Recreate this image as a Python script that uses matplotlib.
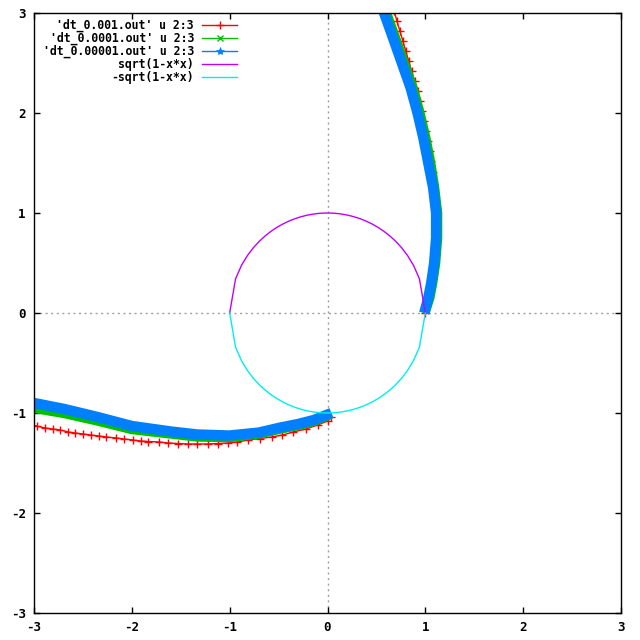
import numpy as np
import matplotlib
matplotlib.use('Agg')
import matplotlib.pyplot as plt
from matplotlib.lines import Line2D

# trajectories (x, y), two visible pieces each
red_up_x = [0.68, 0.71, 0.74, 0.77, 0.80, 0.83, 0.86, 0.89, 0.92, 0.95, 0.97, 0.99, 1.01, 1.03,
            1.05, 1.06, 1.08, 1.09, 1.10, 1.11, 1.11, 1.11, 1.10, 1.09, 1.07, 1.05, 1.03, 1.00]
red_up_y = [3.02, 2.92, 2.82, 2.72, 2.62, 2.52, 2.42, 2.32, 2.22, 2.12, 2.02, 1.92, 1.82, 1.72,
            1.62, 1.52, 1.41, 1.29, 1.16, 1.03, 0.90, 0.77, 0.64, 0.51, 0.38, 0.25, 0.12, 0.00]
red_lo_x = [-3.05, -2.97, -2.89, -2.81, -2.73, -2.65, -2.58, -2.50, -2.42, -2.34, -2.26, -2.16,
            -2.08, -1.99, -1.91, -1.83, -1.72, -1.63, -1.53, -1.43, -1.33, -1.22, -1.12, -1.02,
            -0.92, -0.81, -0.69, -0.57, -0.46, -0.35, -0.22, -0.10, 0.00, 0.04]
red_lo_y = [-1.12, -1.13, -1.15, -1.16, -1.17, -1.19, -1.20, -1.21, -1.22, -1.23, -1.24, -1.25,
            -1.26, -1.27, -1.28, -1.285, -1.29, -1.30, -1.305, -1.31, -1.31, -1.31, -1.305, -1.30,
            -1.29, -1.27, -1.255, -1.24, -1.22, -1.19, -1.16, -1.12, -1.08, -1.04]

green_up_x = [0.58, 0.69, 0.78, 0.87, 0.94, 1.00, 1.05, 1.09, 1.12, 1.12, 1.10, 1.07, 1.04, 0.99]
green_up_y = [3.05, 2.75, 2.50, 2.25, 2.00, 1.75, 1.50, 1.25, 1.00, 0.75, 0.50, 0.30, 0.15, 0.00]
green_lo_x = [-3.05, -2.69, -2.35, -2.00, -1.60, -1.33, -1.00, -0.70, -0.48, -0.30, -0.14, 0.03]
green_lo_y = [-0.94, -1.00, -1.075, -1.16, -1.205, -1.235, -1.24, -1.205, -1.155, -1.12, -1.08, -1.01]

blue_up_x = [0.56, 0.67, 0.76, 0.85, 0.92, 0.98, 1.03, 1.08, 1.11, 1.11, 1.09, 1.06, 1.03, 0.99]
blue_up_y = [3.05, 2.75, 2.50, 2.25, 2.00, 1.75, 1.50, 1.25, 1.00, 0.75, 0.50, 0.30, 0.15, 0.00]
blue_lo_x = [-3.05, -2.69, -2.35, -2.00, -1.60, -1.33, -1.00, -0.70, -0.48, -0.30, -0.14, 0.04]
blue_lo_y = [-0.89, -0.96, -1.04, -1.13, -1.185, -1.215, -1.225, -1.195, -1.145, -1.11, -1.07, -1.00]

labels = ["'dt_0.001.out' u 2:3", "'dt_0.0001.out' u 2:3", "'dt_0.00001.out' u 2:3",
          "sqrt(1-x*x)", "-sqrt(1-x*x)"]
ticks = [-3, -2, -1, 0, 1, 2, 3]

RED, GREEN, BLUE, MAG, CYAN = '#ff0000', '#00c000', '#0080ff', '#c000ff', '#00eeee'

fig = plt.figure(figsize=(6.4, 6.4), dpi=100)
L, R, T, B = 34, 621, 13, 613
ax = fig.add_axes([L/640, 1 - B/640, (R-L)/640, (B-T)/640])
ax.set_xlim(-3, 3)
ax.set_ylim(-3, 3)

# zero axes
ax.axhline(0, color='#a0a0a0', lw=1, ls=(0, (1.5, 2.5)), zorder=1)
ax.axvline(0, color='#a0a0a0', lw=1, ls=(0, (1.5, 2.5)), zorder=1)

# dt = 0.001
for xs, ys in [(red_up_x, red_up_y), (red_lo_x, red_lo_y)]:
    ax.plot(xs, ys, color=RED, lw=1, marker='+', ms=6, mew=1, zorder=2)
# dt = 0.0001 (dense points -> thick band)
for xs, ys in [(green_up_x, green_up_y), (green_lo_x, green_lo_y)]:
    ax.plot(xs, ys, color=GREEN, lw=7.5, solid_capstyle='butt', solid_joinstyle='round', zorder=3)
# dt = 0.00001
for xs, ys in [(blue_up_x, blue_up_y), (blue_lo_x, blue_lo_y)]:
    ax.plot(xs, ys, color=BLUE, lw=7.5, solid_capstyle='butt', solid_joinstyle='round', zorder=4)

# functions sampled like gnuplot (100 samples across the x range)
fx = np.linspace(-3, 3, 100)
inside = np.abs(fx) <= 1 + 1e-9
fy = np.sqrt(np.clip(1 - fx[inside]**2, 0, None))
ax.plot(fx[inside], fy, color=MAG, lw=1, zorder=5)
ax.plot(fx[inside], -fy, color=CYAN, lw=1, zorder=5)

# axes styling, gnuplot-like
for s in ax.spines.values():
    s.set_linewidth(1)
    s.set_zorder(6)
ax.set_xticks(ticks)
ax.set_yticks(ticks)
ax.set_xticklabels([str(t) for t in ticks])
ax.set_yticklabels([str(t) for t in ticks])
ax.tick_params(direction='in', top=True, right=True, length=4, width=1,
               labelsize=9, pad=6)
for lab in ax.get_xticklabels() + ax.get_yticklabels():
    lab.set_fontfamily('DejaVu Sans Mono')
    lab.set_fontweight('bold')

# key, drawn by hand like gnuplot (text right aligned, sample on the right)
def px(x):
    return (x - L) / (R - L)

def py(y):
    return 1 - (y - T) / (B - T)

styles = [dict(color=RED, marker='+', ms=6, mew=1),
          dict(color=GREEN, marker='x', ms=5, mew=1),
          dict(color=BLUE, marker='*', ms=6, mew=0.5),
          dict(color=MAG),
          dict(color=CYAN)]
for i, (lab, st) in enumerate(zip(labels, styles)):
    yy = 25 + 13.1 * i
    ax.text(px(194), py(yy), lab, transform=ax.transAxes, ha='right', va='center',
            fontsize=8.3, fontfamily='DejaVu Sans Mono', fontweight='bold', zorder=7)
    ax.add_line(Line2D([px(202), px(237)], [py(yy), py(yy)], transform=ax.transAxes,
                       lw=1, color=st['color'], clip_on=False, zorder=7))
    if 'marker' in st:
        ax.add_line(Line2D([px(219.5)], [py(yy)], transform=ax.transAxes, ls='none',
                           clip_on=False, zorder=7, **st))

fig.savefig('out.png', dpi=100)
